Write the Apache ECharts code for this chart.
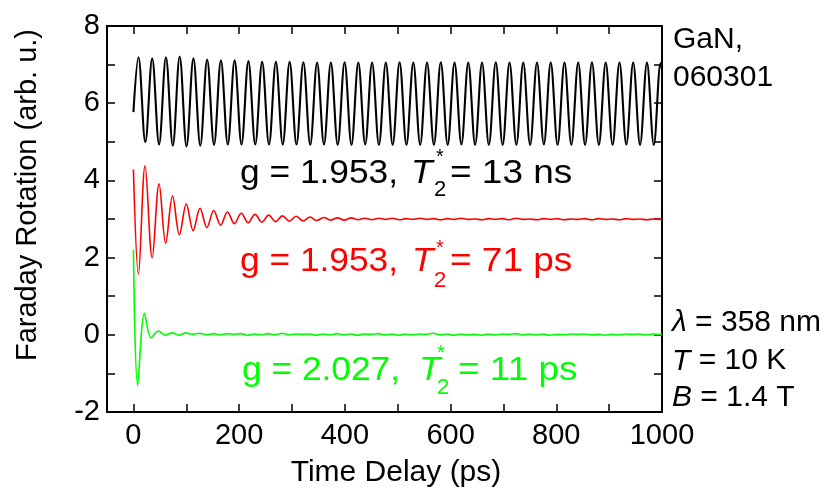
<!DOCTYPE html>
<html>
<head>
<meta charset="utf-8">
<script src="https://cdn.jsdelivr.net/npm/echarts@6/dist/echarts.min.js"></script>
<style>
  html, body { margin: 0; padding: 0; background: #fff; }
  #chart { width: 825px; height: 487px; }
</style>
</head>
<body>
<div id="chart"></div>
<script>
// Axis ticks and labels
const xTicks = [0, 100, 200, 300, 400, 500, 600, 700, 800, 900, 1000];
const xLabels = [0, 200, 400, 600, 800, 1000];
const yTicks = [-2, -1, 0, 1, 2, 3, 4, 5, 6, 7, 8];
const yLabels = [-2, 0, 2, 4, 6, 8];

// Faraday rotation traces: [time delay (ps), signal (arb. u.)], turning points of each trace
const blackWave = [
  [0, 5.77], [9.5, 7.19], [22.5, 4.99], [35.5, 7.16], [48.5, 4.93], [61.5, 7.19], [74.5, 4.90],
  [87.5, 7.21], [100.5, 4.88], [113.5, 7.16], [126.5, 4.90], [139.5, 7.13], [152.5, 4.92],
  [165.5, 7.11], [178.5, 4.93], [191.5, 7.11], [204.5, 4.93], [217.5, 7.09], [230.5, 4.93],
  [243.5, 7.07], [256.5, 4.93], [269.5, 7.07], [282.5, 4.93], [295.5, 7.07], [308.5, 4.93],
  [321.5, 7.06], [334.5, 4.92], [347.5, 7.05], [360.5, 4.93], [373.5, 7.05], [386.5, 4.92],
  [399.5, 7.06], [412.5, 4.92], [425.5, 7.05], [438.5, 4.93], [451.5, 7.05], [464.5, 4.92],
  [477.5, 7.05], [490.5, 4.92], [503.5, 7.06], [516.5, 4.92], [529.5, 7.05], [542.5, 4.92],
  [555.5, 7.05], [568.5, 4.92], [581.5, 7.06], [594.5, 4.92], [607.5, 7.05], [620.5, 4.93],
  [633.5, 7.05], [646.5, 4.92], [659.5, 7.05], [672.5, 4.92], [685.5, 7.06], [698.5, 4.92],
  [711.5, 7.05], [724.5, 4.92], [737.5, 7.05], [750.5, 4.92], [763.5, 7.05], [776.5, 4.93],
  [789.5, 7.05], [802.5, 4.92], [815.5, 7.05], [828.5, 4.92], [841.5, 7.05], [854.5, 4.92],
  [867.5, 7.06], [880.5, 4.92], [893.5, 7.05], [906.5, 4.92], [919.5, 7.05], [932.5, 4.93],
  [945.5, 7.05], [958.5, 4.92], [971.5, 7.05], [984.5, 4.92], [997.5, 7.04], [1000, 6.88]
];

const redWave = [
  [0, 4.28], [9.5, 1.57], [22, 4.38], [35.5, 2.00], [48.5, 3.91], [61, 2.37], [74, 3.60],
  [87, 2.59], [100, 3.39], [113, 2.70], [126, 3.28], [139, 2.78], [152, 3.22], [165, 2.84],
  [178, 3.18], [191, 2.88], [204, 3.15], [217, 2.90], [230, 3.12], [243, 2.92], [256, 3.10],
  [269, 2.93], [282, 3.08], [295, 2.94], [308, 3.07], [321, 2.95], [334, 3.05], [347, 2.96],
  [360, 3.04], [373, 2.97], [386, 3.03], [399, 2.97], [412, 3.03], [425, 2.98], [438, 3.02],
  [451, 2.98], [464, 3.02], [477, 2.99], [490, 3.02], [503, 2.98], [516, 3.01], [529, 2.99],
  [542, 3.02], [555, 2.99], [568, 3.01], [581, 2.98], [594, 3.01], [607, 2.99], [620, 3.02],
  [633, 2.99], [646, 3.00], [659, 2.98], [672, 3.01], [685, 2.99], [698, 3.01], [711, 2.98],
  [724, 3.02], [737, 2.99], [750, 3.00], [763, 2.98], [776, 3.01], [789, 2.99], [802, 3.01],
  [815, 2.98], [828, 3.00], [841, 2.99], [854, 3.01], [867, 2.98], [880, 3.01], [893, 2.99],
  [906, 3.00], [919, 2.98], [932, 3.01], [945, 2.99], [958, 3.00], [971, 2.98], [984, 3.00],
  [997, 2.99], [1000, 2.99]
];

const greenWave = [
  [0, 2.20], [8, -1.31], [21, 0.56], [33.5, -0.08], [47, 0.10], [60, -0.01], [73, 0.05],
  [86, -0.01], [99, 0.05], [112, 0.01], [125, 0.04], [138, 0.00], [151, 0.03], [164, 0.00],
  [177, 0.03], [190, 0.01], [203, 0.03], [216, -0.01], [229, 0.02], [242, 0.00], [255, 0.03],
  [268, 0.00], [281, 0.04], [294, 0.00], [307, 0.02], [320, 0.01], [333, 0.02], [346, -0.01],
  [359, 0.02], [372, 0.00], [385, 0.03], [398, 0.00], [411, 0.02], [424, -0.01], [437, 0.02],
  [450, 0.01], [463, 0.03], [476, 0.00], [489, 0.02], [502, -0.01], [515, 0.02], [528, 0.00],
  [541, 0.02], [554, 0.01], [567, 0.04], [580, 0.00], [593, 0.02], [606, -0.01], [619, 0.02],
  [632, 0.00], [645, 0.01], [658, -0.01], [671, 0.02], [684, 0.00], [697, 0.02], [710, 0.01],
  [723, 0.03], [736, 0.00], [749, 0.02], [762, 0.00], [775, 0.02], [788, -0.01], [801, 0.01],
  [814, 0.00], [827, 0.02], [840, 0.01], [853, 0.02], [866, 0.00], [879, 0.01], [892, -0.01],
  [905, 0.01], [918, 0.00], [931, 0.02], [944, 0.01], [957, 0.02], [970, 0.00], [983, 0.02],
  [996, 0.01], [1000, 0.01]
];

const FONT = '"Liberation Sans", Arial, Helvetica, sans-serif';

const chart = echarts.init(document.getElementById('chart'), null, { renderer: 'canvas' });

function axisCommon(pos, ticks, labels, showLabel) {
  return {
    type: 'value',
    position: pos,
    axisLine: { show: true, onZero: false, lineStyle: { color: '#000', width: 2 } },
    axisTick: { show: true, inside: true, length: 8, customValues: ticks,
                lineStyle: { color: '#000', width: 1.5 } },
    axisLabel: { show: showLabel, customValues: labels, color: '#000',
                 fontFamily: FONT, fontSize: 29, formatter: v => String(v) },
    splitLine: { show: false }
  };
}

const xBottom = Object.assign(axisCommon('bottom', xTicks, xLabels, true), { min: -50, max: 1000 });
xBottom.axisLabel.margin = 9;
const xTop = Object.assign(axisCommon('top', xTicks, xLabels, false), { min: -50, max: 1000 });
const yLeft = Object.assign(axisCommon('left', yTicks, yLabels, true), { min: -2, max: 8 });
yLeft.axisLabel.margin = 7;
const yRight = Object.assign(axisCommon('right', yTicks, yLabels, false), { min: -2, max: 8 });

function txt(str, x, y, size, color, opts) {
  opts = opts || {};
  return {
    type: 'text', x: x, y: y, z: 100,
    rotation: opts.rotation || 0,
    scaleX: opts.scaleX || 1,
    style: {
      text: str, fill: color,
      font: (opts.italic ? 'italic ' : '') + size + 'px ' + FONT,
      align: opts.align || 'left', verticalAlign: 'middle',
      rich: opts.rich
    }
  };
}

// baseline -> middle offset for the text box
function mid(baseline, size) { return baseline - 0.35 * size; }

const S = 33;        // trace annotation size
const SX = 1.07;     // annotation letters run slightly wide
const richI = { i: { fontStyle: 'italic', fontSize: 30, fontFamily: FONT, fill: '#000' } };

function annotation(gText, rest, color, x0, xT, xStar, xSub, xRest, base, starBase, subBase) {
  return [
    txt(gText, x0, mid(base, S), S, color, { scaleX: SX }),
    txt('T', xT, mid(base, S), S, color, { italic: true, scaleX: SX }),
    txt('*', xStar, mid(starBase, 20), 20, color),
    txt('2', xSub, mid(subBase, 22), 22, color),
    txt(rest, xRest, mid(base, S), S, color, { scaleX: 1.12 })
  ];
}

const graphics = [
  // axis titles
  txt('Time Delay (ps)', 396, mid(483, 30), 30, '#000', { align: 'center' }),
  txt('Faraday Rotation (arb. u.)', 28, 195, 29, '#000', { align: 'center', rotation: Math.PI / 2 })
].concat(
  annotation('g = 1.953,', '= 13 ns', '#000000', 240, 411, 436, 434, 450, 185, 164.3, 198),
  annotation('g = 1.953,', '= 71 ps', '#ff0000', 240, 412, 436, 434, 450, 273, 255.5, 289),
  annotation('g = 2.027,', '= 11 ps', '#00ff00', 242, 419, 437, 437, 458, 382.5, 360, 396),
  [
    // sample and conditions
    txt('GaN,', 673, mid(50, 30), 30, '#000'),
    txt('060301', 673, mid(88, 30), 30, '#000'),
    txt('{i|λ} = 358 nm', 672, mid(333, 30), 30, '#000', { rich: richI }),
    txt('{i|T} = 10 K', 672, mid(371.7, 30), 30, '#000', { rich: richI }),
    txt('{i|B} = 1.4 T', 672, mid(408, 30), 30, '#000', { rich: richI })
  ]
);

function trace(data, color, width) {
  return {
    type: 'line', data: data, showSymbol: false, smooth: 0.36,
    lineStyle: { color: color, width: width }, itemStyle: { color: color },
    xAxisIndex: 0, yAxisIndex: 0, animation: false, silent: true
  };
}

chart.setOption({
  animation: false,
  backgroundColor: '#fff',
  grid: { left: 107, right: 163, top: 26, bottom: 75, containLabel: false },
  xAxis: [xBottom, xTop],
  yAxis: [yLeft, yRight],
  series: [
    trace(blackWave, '#000000', 2.1),
    trace(redWave, '#ff0000', 1.6),
    trace(greenWave, '#00ff00', 1.6)
  ],
  graphic: graphics
});
</script>
</body>
</html>
